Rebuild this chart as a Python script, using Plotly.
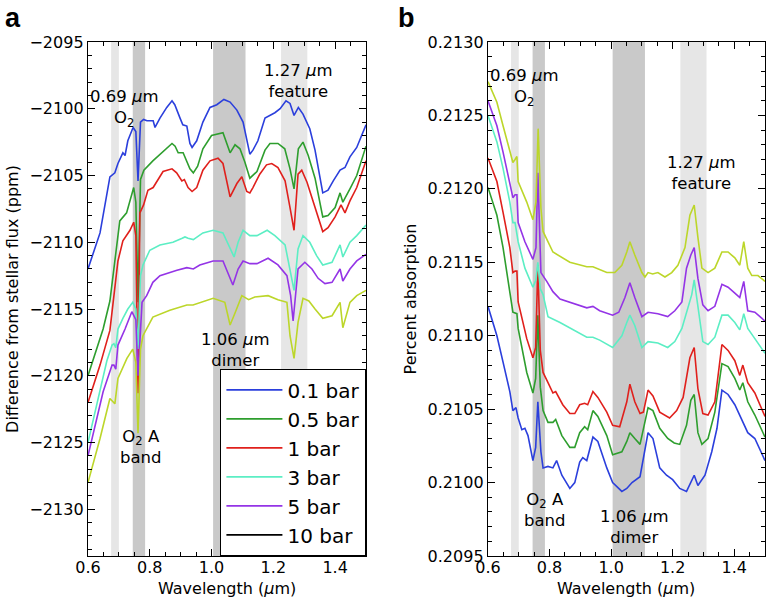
import plotly.graph_objects as go

# ---------------- data ----------------
series_names = ["0.1 bar", "0.5 bar", "1 bar", "3 bar", "5 bar", "10 bar"]
series_colors = ["#2b3fdc", "#2e9e2e", "#e0201c", "#5ceec4", "#9434e6", "#bcd62a"]

# band positions (micron)
light_bands = [[0.675, 0.700], [1.225, 1.310]]
dark_bands = [[0.745, 0.785], [1.005, 1.110]]

# ---- panel a: difference from stellar flux (ppm) ----
a_blue_wl = [0.60, 0.639, 0.671, 0.687, 0.697, 0.713, 0.72, 0.729, 0.746, 0.755, 0.762, 0.770, 0.78, 0.791, 0.811, 0.817, 0.833, 0.855, 0.872, 0.881, 0.898, 0.907, 0.92, 0.93, 0.937, 0.952, 0.972, 0.995, 1.017, 1.04, 1.06, 1.082, 1.102, 1.124, 1.134, 1.15, 1.173, 1.205, 1.222, 1.241, 1.254, 1.267, 1.281, 1.296, 1.318, 1.335, 1.36, 1.377, 1.394, 1.416, 1.432, 1.448, 1.47, 1.5]
a_blue = [-2112.0, -2109.3, -2105.1, -2104.8, -2104.1, -2103.3, -2103.5, -2102.4, -2101.4, -2101.7, -2105.4, -2101.0, -2100.8, -2100.9, -2100.9, -2101.4, -2100.7, -2099.9, -2099.4, -2099.7, -2100.7, -2101.2, -2101.3, -2102.6, -2102.9, -2102.4, -2101.0, -2099.9, -2099.7, -2099.3, -2099.5, -2100.1, -2101.0, -2103.4, -2103.1, -2102.4, -2100.7, -2100.3, -2100.0, -2099.4, -2099.6, -2100.5, -2099.9, -2100.4, -2101.5, -2103.1, -2106.3, -2106.1, -2105.4, -2104.6, -2104.4, -2103.6, -2102.9, -2101.2]

a_green_wl = [0.60, 0.649, 0.671, 0.687, 0.703, 0.725, 0.741, 0.748, 0.755, 0.762, 0.770, 0.781, 0.81, 0.843, 0.872, 0.882, 0.892, 0.908, 0.93, 0.941, 0.955, 0.972, 1.0, 1.037, 1.045, 1.06, 1.076, 1.092, 1.108, 1.124, 1.147, 1.173, 1.189, 1.215, 1.237, 1.254, 1.267, 1.281, 1.296, 1.313, 1.335, 1.36, 1.377, 1.4, 1.416, 1.425, 1.448, 1.47, 1.5]
a_green = [-2120.0, -2116.5, -2114.4, -2111.4, -2108.4, -2107.8, -2106.6, -2105.9, -2107.0, -2114.5, -2105.3, -2104.6, -2103.9, -2103.2, -2102.6, -2102.8, -2103.3, -2103.3, -2104.5, -2104.8, -2104.3, -2103.0, -2102.0, -2101.8, -2102.3, -2103.3, -2102.7, -2103.0, -2104.0, -2105.2, -2104.7, -2103.1, -2102.6, -2102.6, -2103.0, -2104.5, -2106.0, -2103.0, -2102.5, -2103.5, -2105.2, -2108.1, -2108.0, -2107.4, -2106.3, -2107.0, -2106.0, -2105.0, -2102.8]

a_red_wl = [0.60, 0.639, 0.671, 0.682, 0.697, 0.713, 0.736, 0.748, 0.755, 0.762, 0.768, 0.78, 0.794, 0.811, 0.843, 0.872, 0.887, 0.904, 0.912, 0.924, 0.937, 0.952, 0.972, 0.995, 1.021, 1.037, 1.06, 1.082, 1.098, 1.114, 1.124, 1.134, 1.156, 1.178, 1.195, 1.215, 1.238, 1.254, 1.267, 1.28, 1.292, 1.309, 1.328, 1.36, 1.377, 1.4, 1.419, 1.432, 1.448, 1.47, 1.5]
a_red = [-2122.0, -2119.2, -2116.6, -2114.4, -2111.4, -2109.9, -2109.1, -2108.5, -2109.5, -2121.3, -2107.8, -2107.2, -2106.1, -2105.9, -2104.7, -2104.5, -2104.8, -2105.4, -2105.3, -2105.9, -2106.2, -2105.9, -2104.6, -2103.9, -2103.7, -2104.1, -2106.6, -2105.6, -2105.1, -2106.2, -2106.3, -2105.9, -2104.9, -2104.2, -2104.1, -2104.4, -2105.4, -2107.4, -2109.1, -2104.9, -2104.6, -2105.5, -2106.9, -2109.2, -2108.9, -2108.1, -2107.2, -2107.8, -2106.9, -2105.9, -2103.9]

a_cyan_wl = [0.60, 0.629, 0.661, 0.678, 0.684, 0.690, 0.697, 0.713, 0.729, 0.745, 0.755, 0.762, 0.770, 0.778, 0.80, 0.833, 0.875, 0.905, 0.914, 0.924, 0.941, 0.972, 1.005, 1.037, 1.06, 1.073, 1.086, 1.102, 1.124, 1.147, 1.18, 1.205, 1.238, 1.254, 1.267, 1.28, 1.296, 1.318, 1.34, 1.36, 1.39, 1.416, 1.425, 1.448, 1.47, 1.5]
a_cyan = [-2125.0, -2122.2, -2118.9, -2117.7, -2117.6, -2117.9, -2116.5, -2115.7, -2115.0, -2114.5, -2115.0, -2118.0, -2112.5, -2111.7, -2110.6, -2110.2, -2110.0, -2109.7, -2109.6, -2109.7, -2109.8, -2109.3, -2109.1, -2109.3, -2110.5, -2111.1, -2110.0, -2109.1, -2109.5, -2109.5, -2109.1, -2109.5, -2110.2, -2112.0, -2113.6, -2110.5, -2109.5, -2110.0, -2111.0, -2111.7, -2111.5, -2110.2, -2111.1, -2110.0, -2109.5, -2108.7]

a_purple_wl = [0.60, 0.649, 0.678, 0.684, 0.69, 0.697, 0.72, 0.742, 0.755, 0.762, 0.775, 0.79, 0.81, 0.833, 0.888, 0.92, 0.941, 0.962, 1.005, 1.037, 1.06, 1.069, 1.086, 1.102, 1.124, 1.147, 1.183, 1.215, 1.244, 1.256, 1.264, 1.28, 1.302, 1.325, 1.345, 1.367, 1.39, 1.416, 1.425, 1.448, 1.47, 1.5]
a_purple = [-2126.0, -2121.2, -2119.2, -2119.2, -2119.5, -2117.7, -2116.5, -2115.2, -2115.8, -2120.0, -2114.5, -2114.0, -2113.0, -2112.5, -2112.1, -2111.9, -2112.0, -2111.7, -2111.4, -2111.4, -2112.7, -2113.2, -2112.0, -2111.4, -2111.6, -2111.6, -2111.2, -2111.7, -2112.5, -2114.0, -2115.9, -2112.0, -2111.5, -2112.0, -2112.7, -2113.1, -2113.0, -2112.0, -2112.9, -2112.0, -2111.4, -2110.9]

a_yellow_wl = [0.60, 0.639, 0.671, 0.68, 0.687, 0.697, 0.726, 0.745, 0.755, 0.762, 0.770, 0.778, 0.81, 0.865, 0.92, 0.94, 1.005, 1.043, 1.06, 1.076, 1.098, 1.12, 1.14, 1.183, 1.215, 1.244, 1.254, 1.267, 1.28, 1.296, 1.315, 1.335, 1.36, 1.39, 1.416, 1.425, 1.448, 1.47, 1.5]
a_yellow = [-2128.0, -2124.7, -2121.7, -2121.9, -2122.1, -2120.2, -2118.7, -2118.0, -2119.0, -2124.3, -2118.0, -2117.0, -2115.6, -2115.1, -2114.7, -2114.7, -2114.2, -2114.5, -2116.2, -2115.3, -2114.0, -2114.3, -2114.1, -2114.0, -2114.3, -2114.5, -2117.0, -2118.7, -2116.0, -2114.2, -2114.4, -2115.0, -2115.7, -2115.5, -2114.5, -2116.4, -2114.5, -2114.0, -2113.6]

# ---- panel b: percent absorption ----
b_yellow_wl = [0.60, 0.629, 0.649, 0.671, 0.681, 0.688, 0.694, 0.698, 0.726, 0.746, 0.756, 0.763, 0.772, 0.779, 0.811, 0.866, 0.921, 0.941, 0.986, 1.012, 1.035, 1.051, 1.061, 1.077, 1.1, 1.11, 1.12, 1.135, 1.152, 1.175, 1.197, 1.217, 1.24, 1.256, 1.27, 1.282, 1.295, 1.315, 1.337, 1.36, 1.38, 1.402, 1.418, 1.431, 1.444, 1.457, 1.477, 1.5]
b_yellow = [0.21273, 0.21259, 0.21243, 0.21226, 0.21218, 0.21220, 0.21222, 0.21205, 0.21191, 0.21179, 0.21191, 0.21241, 0.21187, 0.21171, 0.21157, 0.21150, 0.21147, 0.21147, 0.21143, 0.21143, 0.21148, 0.21157, 0.21164, 0.21155, 0.21143, 0.21140, 0.21143, 0.21142, 0.21143, 0.21140, 0.21143, 0.21148, 0.21160, 0.21182, 0.21189, 0.21167, 0.21146, 0.21143, 0.21146, 0.21157, 0.21157, 0.21153, 0.21148, 0.21164, 0.21146, 0.21141, 0.21141, 0.21137]

b_purple_wl = [0.60, 0.629, 0.649, 0.671, 0.681, 0.688, 0.694, 0.698, 0.72, 0.746, 0.756, 0.762, 0.772, 0.791, 0.811, 0.834, 0.889, 0.921, 0.941, 0.963, 1.005, 1.025, 1.045, 1.061, 1.077, 1.1, 1.12, 1.152, 1.184, 1.207, 1.23, 1.245, 1.259, 1.27, 1.282, 1.298, 1.315, 1.337, 1.36, 1.38, 1.402, 1.418, 1.431, 1.444, 1.467, 1.5]
b_purple = [0.21260, 0.21243, 0.21225, 0.21205, 0.21194, 0.21196, 0.21196, 0.21177, 0.21164, 0.21152, 0.21160, 0.21211, 0.21143, 0.21137, 0.21130, 0.21125, 0.21121, 0.21119, 0.21120, 0.21117, 0.21114, 0.21116, 0.21126, 0.21136, 0.21126, 0.21113, 0.21116, 0.21115, 0.21113, 0.21117, 0.21123, 0.21146, 0.21155, 0.21160, 0.21139, 0.21121, 0.21117, 0.21120, 0.21135, 0.21133, 0.21129, 0.21126, 0.21137, 0.21117, 0.21116, 0.21110]

b_cyan_wl = [0.60, 0.629, 0.649, 0.671, 0.681, 0.688, 0.698, 0.72, 0.746, 0.756, 0.762, 0.770, 0.779, 0.795, 0.834, 0.889, 0.921, 0.941, 0.963, 1.005, 1.035, 1.051, 1.061, 1.077, 1.1, 1.12, 1.152, 1.184, 1.207, 1.23, 1.25, 1.262, 1.27, 1.282, 1.298, 1.315, 1.337, 1.36, 1.38, 1.402, 1.418, 1.431, 1.444, 1.467, 1.5]
b_cyan = [0.21250, 0.21232, 0.21214, 0.21191, 0.21177, 0.21177, 0.21164, 0.21146, 0.21133, 0.21138, 0.21150, 0.21132, 0.21128, 0.21113, 0.21109, 0.21103, 0.21099, 0.21099, 0.21097, 0.21092, 0.21100, 0.21109, 0.21114, 0.21107, 0.21092, 0.21096, 0.21095, 0.21092, 0.21096, 0.21105, 0.21119, 0.21128, 0.21138, 0.21121, 0.21096, 0.21094, 0.21099, 0.21114, 0.21114, 0.21109, 0.21104, 0.21115, 0.21105, 0.21098, 0.21088]

b_red_wl = [0.60, 0.629, 0.649, 0.671, 0.681, 0.688, 0.694, 0.698, 0.726, 0.746, 0.755, 0.762, 0.770, 0.779, 0.795, 0.811, 0.82, 0.843, 0.866, 0.882, 0.898, 0.914, 0.924, 0.941, 0.957, 0.986, 1.005, 1.028, 1.051, 1.061, 1.077, 1.094, 1.105, 1.12, 1.136, 1.158, 1.19, 1.213, 1.234, 1.256, 1.27, 1.282, 1.298, 1.315, 1.337, 1.36, 1.38, 1.402, 1.418, 1.428, 1.444, 1.467, 1.5]
b_red = [0.21221, 0.21205, 0.21184, 0.21160, 0.21143, 0.21144, 0.21144, 0.21123, 0.21098, 0.21085, 0.21092, 0.21148, 0.21090, 0.21075, 0.21068, 0.21061, 0.21062, 0.21053, 0.21047, 0.21047, 0.21053, 0.21054, 0.21053, 0.21062, 0.21058, 0.21048, 0.21039, 0.21038, 0.21055, 0.21067, 0.21055, 0.21047, 0.21048, 0.21063, 0.21059, 0.21048, 0.21044, 0.21049, 0.21058, 0.21085, 0.21092, 0.21064, 0.21047, 0.21046, 0.21055, 0.21094, 0.21090, 0.21083, 0.21073, 0.21080, 0.21068, 0.21061, 0.21045]

b_green_wl = [0.60, 0.629, 0.649, 0.671, 0.681, 0.694, 0.698, 0.726, 0.746, 0.755, 0.762, 0.770, 0.779, 0.795, 0.811, 0.82, 0.84, 0.866, 0.882, 0.898, 0.914, 0.924, 0.941, 0.957, 0.986, 1.005, 1.035, 1.051, 1.061, 1.077, 1.094, 1.12, 1.136, 1.158, 1.184, 1.205, 1.223, 1.245, 1.259, 1.27, 1.282, 1.295, 1.315, 1.337, 1.36, 1.38, 1.402, 1.418, 1.428, 1.444, 1.467, 1.5]
b_green = [0.21201, 0.21182, 0.21160, 0.21128, 0.21116, 0.21115, 0.21105, 0.21075, 0.21061, 0.21071, 0.21114, 0.21065, 0.21049, 0.21041, 0.21041, 0.21043, 0.21032, 0.21024, 0.21024, 0.21034, 0.21038, 0.21036, 0.21049, 0.21045, 0.21032, 0.21019, 0.21021, 0.21028, 0.21034, 0.21030, 0.21026, 0.21051, 0.21049, 0.21037, 0.21030, 0.21027, 0.21026, 0.21039, 0.21056, 0.21060, 0.21034, 0.21026, 0.21030, 0.21048, 0.21081, 0.21079, 0.21071, 0.21063, 0.21068, 0.21055, 0.21046, 0.21031]

b_blue_wl = [0.60, 0.629, 0.649, 0.671, 0.681, 0.691, 0.698, 0.71, 0.72, 0.73, 0.746, 0.755, 0.762, 0.772, 0.779, 0.795, 0.811, 0.823, 0.84, 0.856, 0.866, 0.882, 0.898, 0.908, 0.921, 0.941, 0.957, 0.986, 1.005, 1.035, 1.051, 1.068, 1.094, 1.12, 1.136, 1.158, 1.18, 1.2, 1.223, 1.245, 1.258, 1.27, 1.282, 1.305, 1.327, 1.344, 1.36, 1.38, 1.402, 1.418, 1.444, 1.467, 1.5]
b_blue = [0.21120, 0.21100, 0.21082, 0.21062, 0.21049, 0.21051, 0.21044, 0.21036, 0.21037, 0.21032, 0.21015, 0.21024, 0.21055, 0.21021, 0.21010, 0.21011, 0.21010, 0.21015, 0.21005, 0.21000, 0.20996, 0.21000, 0.21014, 0.21017, 0.21015, 0.21031, 0.21028, 0.21010, 0.21000, 0.20994, 0.20996, 0.21000, 0.21004, 0.21034, 0.21030, 0.21010, 0.21005, 0.21002, 0.20996, 0.20994, 0.21000, 0.21005, 0.20998, 0.21005, 0.21021, 0.21037, 0.21063, 0.21060, 0.21053, 0.21046, 0.21034, 0.21030, 0.21015]

a_wl = [a_blue_wl, a_green_wl, a_red_wl, a_cyan_wl, a_purple_wl, a_yellow_wl]
a_vals = [a_blue, a_green, a_red, a_cyan, a_purple, a_yellow]
b_wl = [b_blue_wl, b_green_wl, b_red_wl, b_cyan_wl, b_purple_wl, b_yellow_wl]
b_vals = [b_blue, b_green, b_red, b_cyan, b_purple, b_yellow]

FONT = "DejaVu Sans"
fig = go.Figure()

for i in range(6):
    fig.add_trace(go.Scatter(x=a_wl[i], y=a_vals[i], mode="lines", name=series_names[i],
                             line=dict(color=series_colors[i], width=1.6),
                             showlegend=(i < 5), legendrank=i + 1,
                             xaxis="x", yaxis="y"))
for i in range(6):
    fig.add_trace(go.Scatter(x=b_wl[i], y=b_vals[i], mode="lines", name=series_names[i],
                             line=dict(color=series_colors[i], width=1.6),
                             showlegend=False, xaxis="x2", yaxis="y2"))
# legend entry for 10 bar (black)
fig.add_trace(go.Scatter(x=[None], y=[None], mode="lines", name="10 bar",
                         line=dict(color="black", width=1.6), legendrank=6,
                         xaxis="x", yaxis="y"))

shapes = []
for xr, yr in (("x", "y domain"), ("x2", "y2 domain")):
    for b in light_bands:
        shapes.append(dict(type="rect", xref=xr, yref=yr, x0=b[0], x1=b[1], y0=0, y1=1,
                           fillcolor="#e6e6e6", line=dict(width=0), layer="below"))
    for b in dark_bands:
        shapes.append(dict(type="rect", xref=xr, yref=yr, x0=b[0], x1=b[1], y0=0, y1=1,
                           fillcolor="#c9c9c9", line=dict(width=0), layer="below"))

axis_common = dict(showline=True, linecolor="black", linewidth=1.4, mirror="allticks",
                   ticks="inside", ticklen=7, tickwidth=1.2, tickcolor="black",
                   showgrid=False, zeroline=False, automargin=False,
                   tickfont=dict(family=FONT, size=16, color="black"))

xa = dict(axis_common, range=[0.6, 1.5], tickmode="linear", tick0=0.6, dtick=0.2,
          tickformat=".1f", ticklabelstandoff=-3,
          minor=dict(ticks="inside", ticklen=4, tickwidth=1, tickcolor="black", dtick=0.05, tick0=0.6))

fig.update_layout(
    width=767, height=600,
    margin=dict(l=0, r=0, t=0, b=0, autoexpand=False),
    paper_bgcolor="white", plot_bgcolor="white",
    font=dict(family=FONT, color="black"),
    xaxis=dict(xa, domain=[0.1147, 0.4772], anchor="y"),
    xaxis2=dict(xa, domain=[0.6362, 0.9974], anchor="y2"),
    yaxis=dict(axis_common, domain=[0.0733, 0.93], anchor="x", range=[-2133.5, -2095],
               tickmode="linear", tick0=-2095, dtick=5,
               minor=dict(ticks="inside", ticklen=4, tickwidth=1, tickcolor="black", dtick=1, tick0=-2095),
               title=dict(text="Difference from stellar flux (ppm)",
                          font=dict(family=FONT, size=16, color="black"), standoff=6)),
    yaxis2=dict(axis_common, domain=[0.0733, 0.93], anchor="x2", range=[0.2095, 0.2130],
                tickmode="linear", tick0=0.2095, dtick=0.0005, tickformat=".4f",
                minor=dict(ticks="inside", ticklen=4, tickwidth=1, tickcolor="black", dtick=0.0001, tick0=0.2095),
                title=dict(text="Percent absorption",
                           font=dict(family=FONT, size=16, color="black"), standoff=6)),
    shapes=shapes,
    showlegend=True,
    legend=dict(x=0.4772, y=0.0733, xanchor="right", yanchor="bottom",
                bgcolor="white", bordercolor="black", borderwidth=1.4,
                font=dict(family=FONT, size=20, color="black"),
                itemwidth=56, tracegroupgap=0, traceorder="normal"),
)

ann_font = dict(family=FONT, size=16.5, color="black")
annotations = [
    dict(xref="x", yref="y", x=0.717, y=-2100.0, text="0.69 <i>μ</i>m<br>O<sub>2</sub>"),
    dict(xref="x", yref="y", x=1.283, y=-2097.9, text="1.27 <i>μ</i>m<br>feature"),
    dict(xref="x", yref="y", x=0.772, y=-2125.3, text="O<sub>2</sub> A<br>band"),
    dict(xref="x", yref="y", x=1.079, y=-2118.1, text="1.06 <i>μ</i>m<br>dimer"),
    dict(xref="x2", yref="y2", x=0.72, y=0.21269, text="0.69 <i>μ</i>m<br>O<sub>2</sub>"),
    dict(xref="x2", yref="y2", x=1.295, y=0.21211, text="1.27 <i>μ</i>m<br>feature"),
    dict(xref="x2", yref="y2", x=0.785, y=0.20981, text="O<sub>2</sub> A<br>band"),
    dict(xref="x2", yref="y2", x=1.077, y=0.20970, text="1.06 <i>μ</i>m<br>dimer"),
]
for a in annotations:
    a.update(showarrow=False, font=ann_font, align="center", xanchor="center", yanchor="middle")
annotations += [
    dict(xref="x domain", yref="paper", x=0.5, y=0.0, text="Wavelength (<i>μ</i>m)",
         showarrow=False, xanchor="center", yanchor="bottom", yshift=0,
         font=dict(family=FONT, size=16, color="black")),
    dict(xref="x2 domain", yref="paper", x=0.5, y=0.0, text="Wavelength (<i>μ</i>m)",
         showarrow=False, xanchor="center", yanchor="bottom", yshift=0,
         font=dict(family=FONT, size=16, color="black")),
    dict(xref="paper", yref="paper", x=0.004, y=0.998, text="<b>a</b>", showarrow=False,
         xanchor="left", yanchor="top", font=dict(family="Liberation Sans", size=27, color="black")),
    dict(xref="paper", yref="paper", x=0.516, y=0.998, text="<b>b</b>", showarrow=False,
         xanchor="left", yanchor="top", font=dict(family="Liberation Sans", size=27, color="black")),
]
fig.update_layout(annotations=annotations)

fig.write_html("out.html", config={"displayModeBar": False},
               post_script="document.body.style.margin='0';document.body.style.overflow='hidden';")
